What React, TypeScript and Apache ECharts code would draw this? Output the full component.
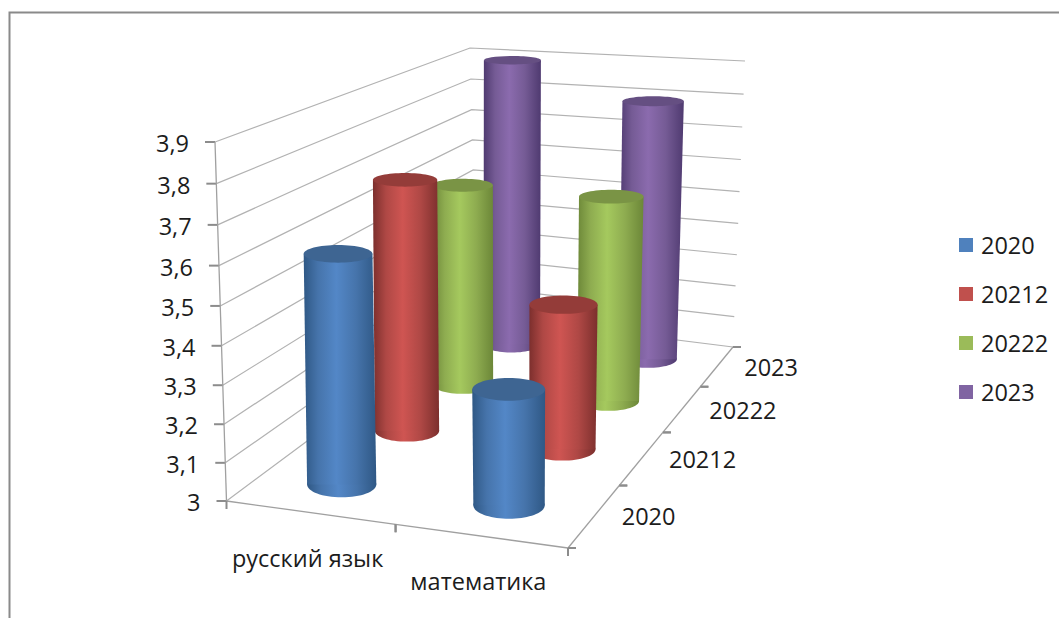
import React, { useEffect, useRef } from "react";
import * as echarts from "echarts";

const subjects = ["русский язык", "математика"];
const years = ["2020", "20212", "20222", "2023"];
const values2020 = [3.6, 3.3];
const values20212 = [3.7, 3.4];
const values20222 = [3.6, 3.6];
const values2023 = [3.9, 3.8];
const valueTicks = [3, 3.1, 3.2, 3.3, 3.4, 3.5, 3.6, 3.7, 3.8, 3.9];

const FONT = "'Open Sans', 'Noto Sans', sans-serif";
const TEXT = "#1c1c1c";
const FONT_SIZE = 23.5;

// cylinder colours
const palette = [
  { legend: "#4f81bd", edge: "#2f5885", mid: "#4674ab", bright: "#5387c7", cap: "#3e6592" },
  { legend: "#c0504d", edge: "#7c2f2d", mid: "#af4845", bright: "#cf5552", cap: "#943c39" },
  { legend: "#9bbb59", edge: "#6c8738", mid: "#8eac50", bright: "#a5c95e", cap: "#7a9445" },
  { legend: "#8064a2", edge: "#4f3a70", mid: "#755b95", bright: "#8b6bae", cap: "#654f82" },
];

const GRID = { left: 226, top: 142, width: 342, height: 359 };

type Pt = [number, number];
type Plane = (u: number, w: number) => Pt;
function homography(p00: Pt, p10: Pt, p11: Pt, p01: Pt): Plane {
  const dx1 = p10[0] - p11[0], dx2 = p01[0] - p11[0], sx = p00[0] - p10[0] + p11[0] - p01[0];
  const dy1 = p10[1] - p11[1], dy2 = p01[1] - p11[1], sy = p00[1] - p10[1] + p11[1] - p01[1];
  const den = dx1 * dy2 - dx2 * dy1;
  const g = (sx * dy2 - dx2 * sy) / den;
  const h = (dx1 * sy - sx * dy1) / den;
  const a = p10[0] - p00[0] + g * p10[0], b = p01[0] - p00[0] + h * p01[0], c = p00[0];
  const d = p10[1] - p00[1] + g * p10[1], e = p01[1] - p00[1] + h * p01[1], f = p00[1];
  return (u: number, w: number): Pt => {
    const q = 1 + g * u + h * w;
    return [(a * u + b * w + c) / q, (d * u + e * w + f) / q];
  };
}
const floorPlane = homography([226.5, 501], [568, 548], [733, 347], [477, 315]);
const cylinderFloor = homography([220, 504], [568, 548.5], [733, 347.5], [469, 319]);
const topPlane = homography([215, 142], [572, 171], [745, 61], [470, 48]);
const PERSPECTIVE = 0.048;

function project(u: number, w: number, v: number, base: Plane = floorPlane): Pt {
  const f = base(u, w), t = topPlane(u, w);
  const k = (v * (1 - PERSPECTIVE)) / (1 - PERSPECTIVE * v);
  return [f[0] + (t[0] - f[0]) * k, f[1] + (t[1] - f[1]) * k];
}
// height on the value axis, read through the chart's own y scale, as a 0..1 fraction
function level(api: any, value: number) {
  return (GRID.top + GRID.height - api.coord([0, value])[1]) / GRID.height;
}
const RU = 0.105, RW = 0.055;

function disc(u: number, w: number, v: number) {
  const c = project(u, w, v, cylinderFloor);
  const rx = Math.abs(project(u + RU, w, v, cylinderFloor)[0] - project(u - RU, w, v, cylinderFloor)[0]) / 2;
  const ry = Math.abs(project(u, w - RW, v, cylinderFloor)[1] - project(u, w + RW, v, cylinderFloor)[1]) / 2;
  return { cx: c[0], cy: c[1], rx, ry };
}

function cylinderRenderer(depth: number) {
  const col = palette[depth];
  const fill = new echarts.graphic.LinearGradient(0, 0, 1, 0, [
    { offset: 0, color: col.edge },
    { offset: 0.2, color: col.mid },
    { offset: 0.45, color: col.bright },
    { offset: 0.72, color: col.mid },
    { offset: 1, color: col.edge },
  ]);
  return (_: any, api: any) => {
    const cat = api.value(0);
    const u = (cat + 0.5) / subjects.length;
    const w = (depth + 0.5) / years.length;
    const b = disc(u, w, 0);
    const t = disc(u, w, level(api, api.value(1)));
    return {
      type: "group",
      children: [
        { type: "ellipse", shape: b, style: { fill } },
        {
          type: "polygon",
          shape: {
            points: [
              [t.cx - t.rx, t.cy],
              [t.cx + t.rx, t.cy],
              [b.cx + b.rx, b.cy],
              [b.cx - b.rx, b.cy],
            ],
          },
          style: { fill },
        },
        { type: "ellipse", shape: t, style: { fill: col.cap } },
      ],
    };
  };
}

const GRIDLINE = "#b2b2b2";
const AXIS = "#a0a0a0";
const TICK = "#8c8c8c";

function seg(a: Pt, b: Pt, stroke: string, lineWidth: number) {
  return { type: "line", shape: { x1: a[0], y1: a[1], x2: b[0], y2: b[1] }, style: { stroke, lineWidth } };
}

function valueAxisRenderer(_: any, api: any) {
  const value = api.value(1);
  const v = level(api, value);
  const a = project(0, 0, v), b = project(0, 1, v), c = project(1, 1, v);
  return {
    type: "group",
    children: [
      { type: "polyline", shape: { points: [a, b, c] }, style: { stroke: GRIDLINE, fill: "none", lineWidth: 1.2 } },
      seg([a[0] - 10, a[1]], a, TICK, 2),
      {
        type: "text",
        x: a[0] - 26,
        y: a[1] + 1,
        style: {
          text: String(value).replace(".", ","),
          fill: TEXT,
          font: `${FONT_SIZE}px ${FONT}`,
          align: "right",
          verticalAlign: "middle",
        },
      },
    ],
  };
}

function subjectAxisRenderer(_: any, api: any) {
  const i = api.value(0);
  const u = (i + 0.5) / subjects.length;
  const p = project(u, 0, 0);
  const start = project(i / subjects.length, 0, 0);
  const end = project((i + 1) / subjects.length, 0, 0);
  return {
    type: "group",
    children: [
      seg(start, end, AXIS, 1.3),
      seg(start, [start[0], start[1] + 8], TICK, 2),
      seg(end, [end[0], end[1] + 8], TICK, 2),
      {
        type: "text",
        x: p[0] - 3,
        y: p[1] + 45,
        style: { text: subjects[i], fill: TEXT, font: `${FONT_SIZE}px ${FONT}`, align: "center", verticalAlign: "middle" },
      },
    ],
  };
}

function yearAxisRenderer(_: any, api: any) {
  const i = api.value(0);
  const w = (i + 0.5) / years.length;
  const p = project(1, w, 0);
  const start = project(1, i / years.length, 0);
  const end = project(1, (i + 1) / years.length, 0);
  return {
    type: "group",
    children: [
      seg(start, end, AXIS, 1.3),
      seg(start, [start[0] + 8, start[1]], TICK, 2),
      seg(end, [end[0] + 8, end[1]], TICK, 2),
      {
        type: "text",
        x: p[0] + 27,
        y: p[1] + 1,
        style: { text: years[i], fill: TEXT, font: `${FONT_SIZE}px ${FONT}`, align: "left", verticalAlign: "middle" },
      },
    ],
  };
}

const seriesValues = [values2020, values20212, values20222, values2023];

export default function App() {
  const ref = useRef<HTMLDivElement>(null);
  useEffect(() => {
    document.body.style.margin = "0";
    const chart = echarts.init(ref.current!, undefined, { renderer: "svg" });
    chart.setOption({
      animation: false,
      backgroundColor: "#ffffff",
      tooltip: { show: false },
      grid: { ...GRID },
      xAxis: { type: "category", data: subjects, show: false },
      yAxis: { type: "value", min: 3, max: 3.9, interval: 0.1, show: false },
      legend: {
        orient: "vertical",
        left: 954,
        top: 228,
        itemWidth: 14,
        itemHeight: 14,
        itemGap: 25,
        icon: "rect",
        selectedMode: false,
        data: years,
        textStyle: { fontFamily: FONT, fontSize: FONT_SIZE, color: TEXT, padding: [0, 0, 0, 3] },
      },
      graphic: [
        {
          type: "polyline",
          shape: { points: [[9.5, 618], [9.5, 12.5], [1059, 12.5]] },
          style: { stroke: "#8a8a8a", fill: "none", lineWidth: 2 },
          silent: true,
        },
      ],
      series: [
        {
          type: "custom",
          name: "axis-value",
          silent: true,
          z: 1,
          clip: false,
          data: valueTicks.map((t) => [0, t]),
          encode: { x: 0, y: 1 },
          renderItem: valueAxisRenderer,
        },
        {
          type: "custom",
          name: "axis-subject",
          silent: true,
          z: 1,
          clip: false,
          data: subjects.map((_, i) => [i, 3]),
          encode: { x: 0, y: 1 },
          renderItem: subjectAxisRenderer,
        },
        {
          type: "custom",
          name: "axis-year",
          silent: true,
          z: 1,
          clip: false,
          data: years.map((_, i) => [i, 3]),
          encode: { x: 0, y: 1 },
          renderItem: yearAxisRenderer,
        },
        {
          type: "custom",
          name: "axis-left",
          silent: true,
          z: 1,
          clip: false,
          data: [[0, 3.9]],
          encode: { x: 0, y: 1 },
          renderItem: (_: any, api: any) =>
            seg(project(0, 0, 0), project(0, 0, level(api, api.value(1))), AXIS, 1.3),
        },
        ...years.map((name, d) => ({
          type: "custom",
          name,
          silent: true,
          z: 10 - d,
          clip: false,
          itemStyle: { color: palette[d].legend },
          data: seriesValues[d].map((val, i) => [i, val]),
          encode: { x: 0, y: 1 },
          renderItem: cylinderRenderer(d),
        })),
      ],
    });
    return () => chart.dispose();
  }, []);
  return <div ref={ref} style={{ position: "fixed", left: 0, top: 0, width: 1059, height: 618 }} />;
}
